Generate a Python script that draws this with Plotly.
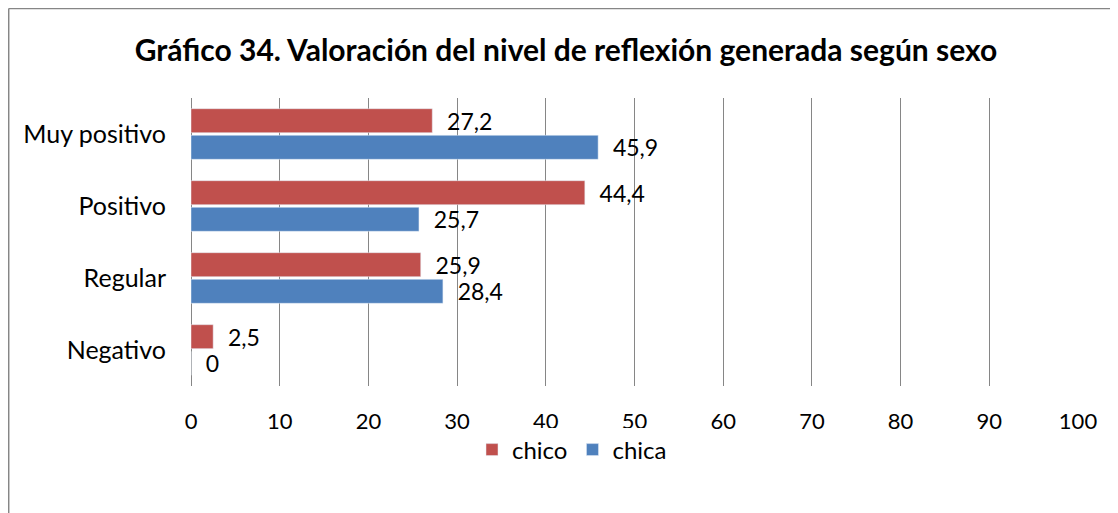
import plotly.graph_objects as go

categorias = ["Muy positivo", "Positivo", "Regular", "Negativo"]
chico = [27.2, 44.4, 25.9, 2.5]
chica = [45.9, 25.7, 28.4, 0]
ticks = [0, 10, 20, 30, 40, 50, 60, 70, 80, 90, 100]


def etiqueta(v):
    return "  " + f"{v:g}".replace(".", ",")


fig = go.Figure()
fig.add_trace(go.Bar(
    y=categorias, x=chico, name="chico", orientation="h",
    marker_color="#C0504D",
    text=[etiqueta(v) for v in chico], textposition="outside",
    constraintext="none",
    textfont=dict(size=23, color="black"), cliponaxis=False,
))
fig.add_trace(go.Bar(
    y=categorias, x=chica, name="chica", orientation="h",
    marker_color="#4F81BD",
    text=[etiqueta(v) for v in chica], textposition="outside",
    constraintext="none",
    textfont=dict(size=23, color="black"), cliponaxis=False,
))

# la página tiene 8 px de margen en el body, se compensa aquí
fig.update_layout(
    width=1118, height=513,
    margin=dict(l=183, r=48, t=90, b=135, autoexpand=False),
    paper_bgcolor="white", plot_bgcolor="white",
    font=dict(family="Lato, Open Sans, sans-serif", size=22, color="black"),
    title=dict(
        text="<b>Gráfico 34. Valoración del nivel de reflexión generada según sexo</b>",
        x=558 / 1118, xanchor="center", y=1 - 42 / 513, yanchor="middle",
        font=dict(size=30, color="black"),
    ),
    barmode="group", bargap=0.26, bargroupgap=0.1,
    legend=dict(
        orientation="h", xref="container", yref="container",
        x=564 / 1118, xanchor="center", y=1 - 442 / 513, yanchor="middle",
        font=dict(size=24), traceorder="normal",
    ),
)
fig.update_xaxes(
    range=[0, 100], tickvals=ticks, showgrid=True, gridcolor="#868686",
    gridwidth=1.3, zeroline=True, zerolinecolor="#868686", zerolinewidth=1.3,
    showline=False, ticks="", tickfont=dict(size=22), ticklabelstandoff=20,
    automargin=False,
)
fig.update_yaxes(
    autorange="reversed", showgrid=False, showline=False,
    ticks="", tickfont=dict(size=25), ticklabelstandoff=24, automargin=False,
)

# marco del gráfico (solo se ven los bordes superior e izquierdo)
x_borde = (0.5 - 183) / 888
y_borde = 1 + (90 - 0.5) / 288
fig.add_shape(type="line", xref="paper", yref="paper",
              x0=x_borde, x1=1.2, y0=y_borde, y1=y_borde,
              line=dict(color="#868686", width=1.5))
fig.add_shape(type="line", xref="paper", yref="paper",
              x0=x_borde, x1=x_borde, y0=-0.6, y1=y_borde,
              line=dict(color="#868686", width=1.5))

fig.write_html("out.html")
